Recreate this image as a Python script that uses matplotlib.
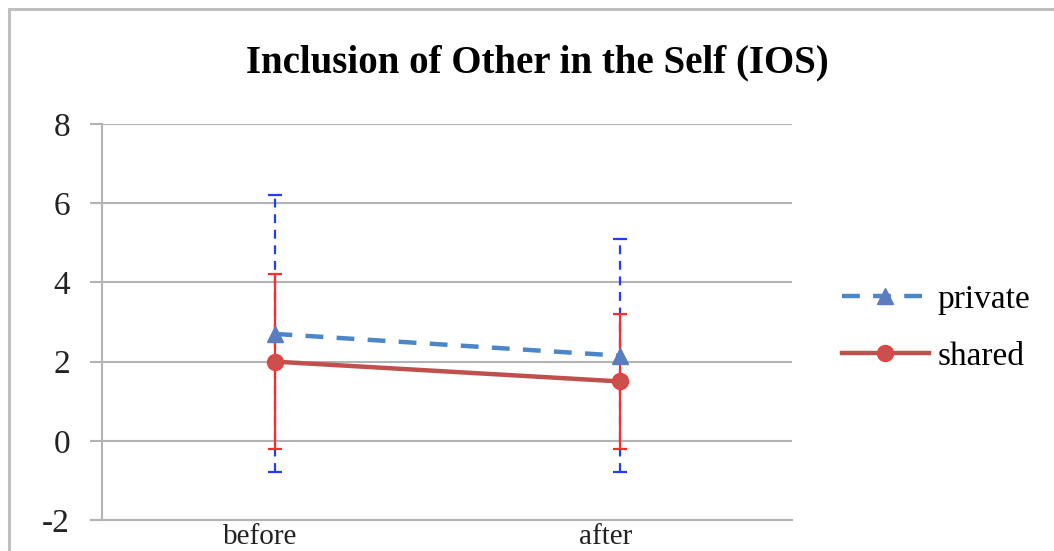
import matplotlib
matplotlib.use("Agg")
import matplotlib.pyplot as plt
import matplotlib.transforms as mtransforms
from matplotlib.patches import Rectangle
from matplotlib.lines import Line2D

categories = ["before", "after"]
private_mean = [2.7, 2.15]
private_err = [3.5, 2.95]
shared_mean = [2.0, 1.5]
shared_err = [2.2, 1.7]
yticks = [-2, 0, 2, 4, 6, 8]
title = "Inclusion of Other in the Self (IOS)"

plt.rcParams['font.family'] = ['Liberation Serif', 'DejaVu Serif']

fig = plt.figure(figsize=(10.54, 5.51), dpi=100)
W, H = 1054, 551
ax = fig.add_axes([102 / W, 1 - 520 / H, (792 - 102) / W, (520 - 124) / H])

# outer chart border
fig.patches.append(Rectangle((9 / W, -0.05), 1.1, 1 - 9 / H + 0.05,
                             transform=fig.transFigure, fill=False,
                             edgecolor='#bfbfbf', linewidth=2.2, zorder=0))

x = list(range(len(categories)))
grid_c = '#b3b3b3'

# error bars
eb1 = ax.errorbar(x, private_mean, yerr=private_err, fmt='none', ecolor='#1f3cff',
                  elinewidth=1.6, capsize=5, capthick=1.6, zorder=3)
for lc in eb1[2]:
    lc.set_linestyle((0, (4, 3)))
ax.errorbar(x, shared_mean, yerr=shared_err, fmt='none', ecolor='#ff2a2a',
            elinewidth=1.6, capsize=5, capthick=1.6, zorder=4)

ax.plot(x, private_mean, color='#4a86c8', linewidth=3.2, linestyle=(0, (4, 3)),
        marker='^', markersize=11, markerfacecolor='#5b7dbf',
        markeredgecolor='#5b7dbf', zorder=5)
ax.plot(x, shared_mean, color='#c0504d', linewidth=3.2, linestyle='-',
        marker='o', markersize=11, markerfacecolor='#c9504f',
        markeredgecolor='#e8413e', markeredgewidth=1.5, zorder=6)

ax.set_xlim(-0.5, 1.5)
ax.set_ylim(-2, 8)
ax.set_yticks(yticks)
ax.set_yticklabels([str(v) for v in yticks], fontsize=24)
ax.set_xticks(x)
ax.set_xticklabels(categories, fontsize=21)
ax.yaxis.grid(True, color=grid_c, linewidth=1.5)
ax.set_axisbelow(True)
for s in ['top', 'right']:
    ax.spines[s].set_visible(False)
ax.spines['left'].set_color(grid_c)
ax.spines['left'].set_linewidth(1.5)
ax.spines['bottom'].set_color(grid_c)
ax.spines['bottom'].set_linewidth(1.5)
ax.tick_params(axis='y', length=9, width=1.5, color=grid_c, pad=14, labelcolor='#222222')
ax.tick_params(axis='x', length=0, pad=3, labelcolor='#222222')

offset = mtransforms.ScaledTranslation(-14 / 100, 0, fig.dpi_scale_trans)
for tick in ax.xaxis.get_major_ticks():
    tick.label1.set_transform(tick.label1.get_transform() + offset)

fig.text(537 / W, 1 - 63 / H, title, ha='center', va='center',
         fontsize=28, fontweight='bold', color='black')

handles = [
    Line2D([], [], color='#4a86c8', linewidth=3.2, linestyle=(0, (4, 3)),
           marker='^', markersize=11, markerfacecolor='#5b7dbf', markeredgecolor='#5b7dbf'),
    Line2D([], [], color='#c0504d', linewidth=3.2, marker='o', markersize=11,
           markerfacecolor='#c9504f', markeredgecolor='#e8413e', markeredgewidth=1.5),
]
fig.legend(handles, ['private', 'shared'], loc='center left',
           bbox_to_anchor=(842 / W, 1 - 328 / H), frameon=False, fontsize=24,
           handlelength=2.6, handletextpad=0.27, labelspacing=0.8,
           borderaxespad=0, borderpad=0)

fig.savefig('out.png', dpi=100)
